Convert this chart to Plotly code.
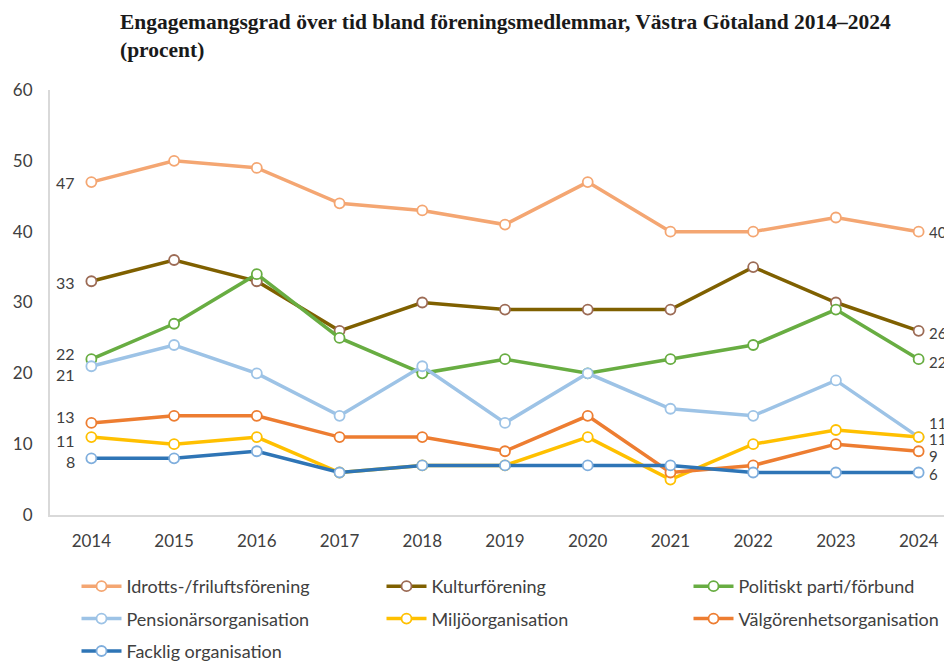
import plotly.graph_objects as go

years = ["2014", "2015", "2016", "2017", "2018", "2019", "2020", "2021", "2022", "2023", "2024"]

series_names = [
    "Idrotts-/friluftsförening",
    "Kulturförening",
    "Politiskt parti/förbund",
    "Pensionärsorganisation",
    "Miljöorganisation",
    "Välgörenhetsorganisation",
    "Facklig organisation",
]

idrott = [47, 50, 49, 44, 43, 41, 47, 40, 40, 42, 40]
kultur = [33, 36, 33, 26, 30, 29, 29, 29, 35, 30, 26]
politiskt = [22, 27, 34, 25, 20, 22, 20, 22, 24, 29, 22]
pension = [21, 24, 20, 14, 21, 13, 20, 15, 14, 19, 11]
miljo = [11, 10, 11, 6, 7, 7, 11, 5, 10, 12, 11]
valgorenhet = [13, 14, 14, 11, 11, 9, 14, 6, 7, 10, 9]
facklig = [8, 8, 9, 6, 7, 7, 7, 7, 6, 6, 6]

values = [idrott, kultur, politiskt, pension, miljo, valgorenhet, facklig]

colors = ["#F4A672", "#7F6000", "#68AD42", "#9DC3E6", "#FFC000", "#ED7D31", "#2E75B6"]
marker_lines = ["#F4A672", "#9C6B55", "#68AD42", "#9DC3E6", "#FFC000", "#ED7D31", "#7FAEDD"]
legend_ids = ["legend", "legend2", "legend3", "legend", "legend2", "legend3", "legend"]
# pixel nudges of the end labels (style only)
left_shift = [0, -1, 6, -8, -3, 6, -3]
right_shift = [0, -2, -3, 14, -2, -5, -1]

TXT = "#404040"
SANS = "Lato, 'Liberation Sans', Arial, sans-serif"
PW = 910  # plot width in px

fig = go.Figure()
for i, (name, vals, col, mcol, lg) in enumerate(zip(series_names, values, colors, marker_lines, legend_ids)):
    fig.add_trace(go.Scatter(
        x=years, y=vals, name=name, mode="lines+markers",
        line=dict(color=col, width=3.5),
        marker=dict(size=10, color="white", line=dict(color=mcol, width=1.8)),
        cliponaxis=False, legend=lg, legendgroup="g%d" % i,
    ))

last = len(years) - 1
annotations = []
for vals, ls, rs in zip(values, left_shift, right_shift):
    annotations.append(dict(x=0, y=vals[0], text=str(vals[0]), showarrow=False,
                            xanchor="right", yanchor="middle", xshift=-14, yshift=ls,
                            font=dict(family=SANS, size=16, color=TXT)))
    annotations.append(dict(x=last, y=vals[-1], text=str(vals[-1]), showarrow=False,
                            xanchor="left", yanchor="middle", xshift=8, yshift=rs,
                            font=dict(family=SANS, size=15, color=TXT)))

annotations.append(dict(
    text="<b>Engagemangsgrad över tid bland föreningsmedlemmar, Västra Götaland 2014–2024<br>(procent)</b>",
    xref="paper", yref="paper", x=68 / PW, y=(515 - 8) / 425,
    xanchor="left", yanchor="top", align="left", showarrow=False,
    font=dict(family="'Liberation Serif', 'Times New Roman', serif", size=21.5, color="#1a1a1a"),
))

leg_common = dict(orientation="v", yanchor="top", xanchor="left", y=-0.1247,
                  font=dict(family=SANS, size=18, color=TXT), tracegroupgap=6,
                  traceorder="grouped", bgcolor="rgba(0,0,0,0)", itemwidth=40)

fig.update_layout(
    width=952, height=656,
    margin=dict(l=42, r=0, t=82, b=149, autoexpand=False),
    paper_bgcolor="white", plot_bgcolor="white",
    xaxis=dict(
        type="category", range=[-0.5, 10.5], automargin=False,
        showline=True, linecolor="#D9D9D9", linewidth=2,
        showgrid=False, zeroline=False, ticks="",
        tickfont=dict(family=SANS, size=17, color=TXT),
        ticklabelstandoff=10,
    ),
    yaxis=dict(
        range=[0, 60], tickvals=[0, 10, 20, 30, 40, 50, 60], automargin=False,
        showline=True, linecolor="#D9D9D9", linewidth=2,
        showgrid=False, zeroline=False, ticks="",
        tickfont=dict(family=SANS, size=17, color=TXT),
        ticklabelstandoff=12,
    ),
    legend=dict(x=26.5 / PW, **leg_common),
    legend2=dict(x=331.5 / PW, **leg_common),
    legend3=dict(x=638.5 / PW, **leg_common),
    annotations=annotations,
    showlegend=True,
)

fig.write_html("out.html")
